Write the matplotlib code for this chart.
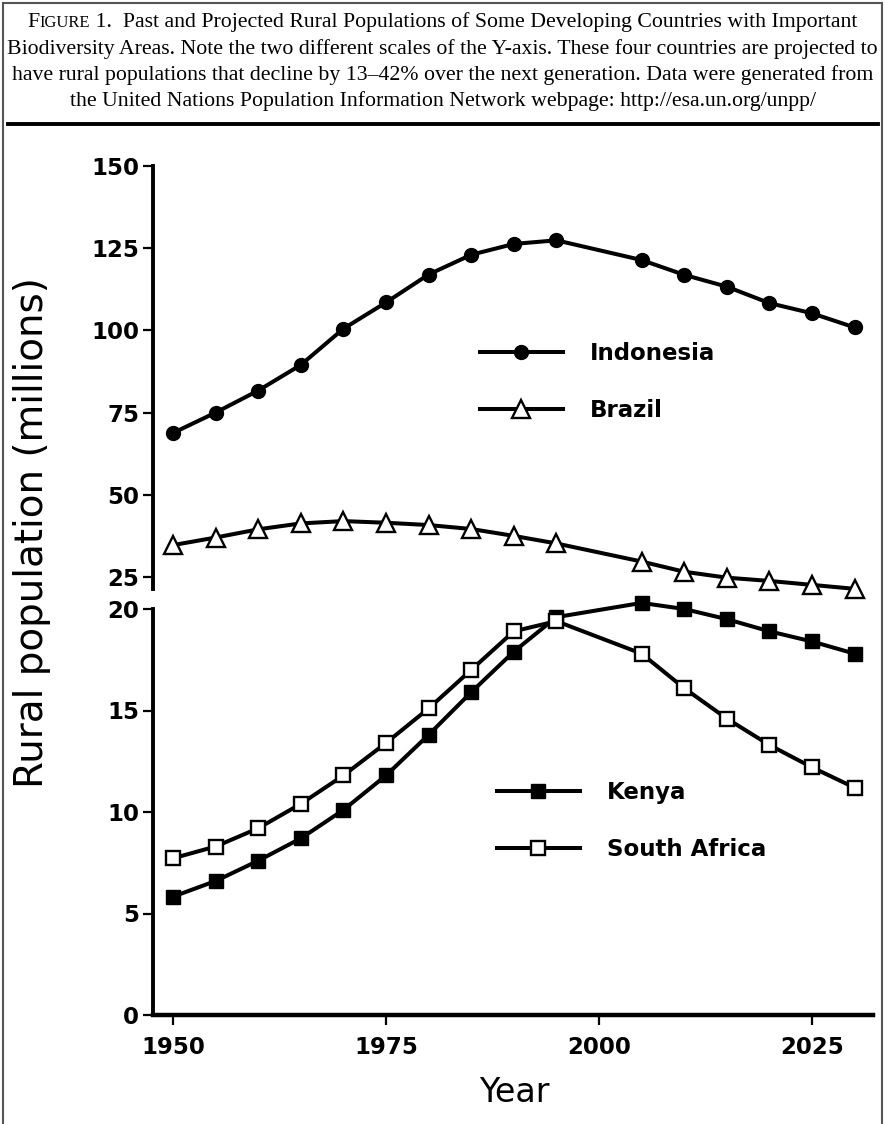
import matplotlib
matplotlib.use("Agg")
import matplotlib.pyplot as plt
from matplotlib.lines import Line2D

# ---------------- data ----------------
years = [1950, 1955, 1960, 1965, 1970, 1975, 1980, 1985, 1990, 1995,
         2005, 2010, 2015, 2020, 2025, 2030]
indonesia = [68.8, 75.0, 81.7, 89.5, 100.5, 108.5, 117.0, 123.0, 126.3, 127.4,
             121.4, 116.9, 113.3, 108.3, 105.2, 100.9]
brazil = [34.7, 37.0, 39.5, 41.3, 42.0, 41.5, 40.8, 39.6, 37.5, 35.2,
          29.7, 26.6, 24.8, 23.8, 22.6, 21.4]
kenya = [5.83, 6.6, 7.6, 8.7, 10.1, 11.8, 13.8, 15.9, 17.9, 19.6,
         20.3, 20.0, 19.5, 18.9, 18.4, 17.8]
south_africa = [7.72, 8.3, 9.2, 10.4, 11.8, 13.4, 15.1, 17.0, 18.9, 19.4,
                17.8, 16.1, 14.6, 13.3, 12.2, 11.2]

top_ticks = [25, 50, 75, 100, 125, 150]
bottom_ticks = [0, 5, 10, 15, 20]
x_ticks = [1950, 1975, 2000, 2025]

caption_first = ("F", "IGURE", " 1.  Past and Projected Rural Populations of Some Developing Countries with Important")
caption_rest = [
    "Biodiversity Areas. Note the two different scales of the Y-axis. These four countries are projected to",
    "have rural populations that decline by 13\u201342% over the next generation. Data were generated from",
    "the United Nations Population Information Network webpage: http://esa.un.org/unpp/",
]

# ---------------- figure ----------------
W, H = 885, 1124
fig = plt.figure(figsize=(W / 100, H / 100), dpi=100)
fig.patch.set_facecolor("white")


def fx(px):
    return px / W


def fy(py):
    return 1 - py / H


SANS = "DejaVu Sans"
SERIF = "Liberation Serif"
LW = 2.9
TICK_SIZE = 16.5

# frame around whole figure
for xs, ys in [([3, 3], [3, H]), ([3, 882], [3, 3]), ([882, 882], [3, H])]:
    fig.add_artist(Line2D([fx(x) for x in xs], [fy(y) for y in ys],
                          transform=fig.transFigure, color="#555555", lw=1.5))

# caption rule
fig.add_artist(Line2D([fx(8), fx(878)], [fy(124), fy(124)], transform=fig.transFigure,
                      color="black", lw=2.8))

# ---------------- caption text ----------------
renderer = fig.canvas.get_renderer()
target_w = 872.0
probe = fig.text(0, 0, caption_rest[0], family=SERIF, size=14)
w0 = probe.get_window_extent(renderer).width
probe.remove()
cap_size = 14 * target_w / w0

baselines = [27, 54, 80, 106]
pieces = [(caption_first[0], cap_size), (caption_first[1], cap_size * 0.76), (caption_first[2], cap_size)]
widths = []
for s, sz in pieces:
    t = fig.text(0, 0, s, family=SERIF, size=sz)
    widths.append(t.get_window_extent(renderer).width)
    t.remove()
x0 = W / 2 - sum(widths) / 2
for (s, sz), wd in zip(pieces, widths):
    fig.text(fx(x0), fy(baselines[0]), s, family=SERIF, size=sz, va="baseline", ha="left")
    x0 += wd
for line, b in zip(caption_rest, baselines[1:]):
    fig.text(0.5, fy(b), line, family=SERIF, size=cap_size, va="baseline", ha="center")

# ---------------- axes ----------------
left, right = 153, 873
xmin = 1950 - (173 - left) / 8.52
xmax = 1950 + (right - 173) / 8.52

ax_top = fig.add_axes([fx(left), fy(589), fx(right) - fx(left), fy(166) - fy(589)])
ax_bot = fig.add_axes([fx(left), fy(1015), fx(right) - fx(left), fy(609) - fy(1015)])

for ax in (ax_top, ax_bot):
    ax.set_xlim(xmin, xmax)
    ax.patch.set_alpha(0)
    for sp in ("top", "right"):
        ax.spines[sp].set_visible(False)
    ax.spines["left"].set_linewidth(2.8)
    ax.spines["bottom"].set_linewidth(3.2)
    ax.tick_params(axis="both", direction="out", length=7, width=1.6, pad=3,
                   labelsize=TICK_SIZE, colors="black")

ax_top.spines["bottom"].set_visible(False)
ax_top.set_xticks([])
ax_top.set_ylim(21.35, 150)
ax_top.set_yticks(top_ticks)
ax_top.set_yticklabels([str(v) for v in top_ticks], family=SANS, fontweight="bold", size=TICK_SIZE)

ax_bot.set_ylim(0, 20)
ax_bot.set_yticks(bottom_ticks)
ax_bot.set_yticklabels([str(v) for v in bottom_ticks], family=SANS, fontweight="bold", size=TICK_SIZE)
ax_bot.set_xticks(x_ticks)
ax_bot.set_xticklabels([str(v) for v in x_ticks], family=SANS, fontweight="bold", size=TICK_SIZE)
ax_bot.tick_params(axis="x", pad=8)

l_ind, = ax_top.plot(years, indonesia, color="black", lw=LW, marker="o", ms=10,
                     mfc="black", mec="black", clip_on=False, label="Indonesia")
l_bra, = ax_top.plot(years, brazil, color="black", lw=LW, marker="^", ms=12.5,
                     mfc="white", mec="black", mew=1.7, clip_on=False, label="Brazil")
l_ken, = ax_bot.plot(years, kenya, color="black", lw=LW, marker="s", ms=10,
                     mfc="black", mec="black", clip_on=False, label="Kenya")
l_sa, = ax_bot.plot(years, south_africa, color="black", lw=LW, marker="s", ms=9.5,
                    mfc="white", mec="black", mew=1.7, clip_on=False, label="South Africa")

leg_kw = dict(frameon=False, handlelength=3.62, handletextpad=1.18, labelspacing=1.49,
              numpoints=1, borderaxespad=0, borderpad=0,
              prop={"family": SANS, "weight": "bold", "size": 16.5})
leg1 = ax_top.legend(handles=[l_ind, l_bra], loc="upper left",
                     bbox_to_anchor=(fx(480), fy(342)), bbox_transform=fig.transFigure, **leg_kw)
leg2 = ax_bot.legend(handles=[l_ken, l_sa], loc="upper left",
                     bbox_to_anchor=(fx(497), fy(781)), bbox_transform=fig.transFigure, **leg_kw)

# axis titles
fig.text(fx(32), fy(533), "Rural population (millions)", rotation=90, family=SANS,
         size=28, ha="center", va="center")
fig.text(fx(514), fy(1093), "Year", family=SANS, size=24, ha="center", va="center")

fig.savefig("out.png", dpi=100, facecolor="white")
